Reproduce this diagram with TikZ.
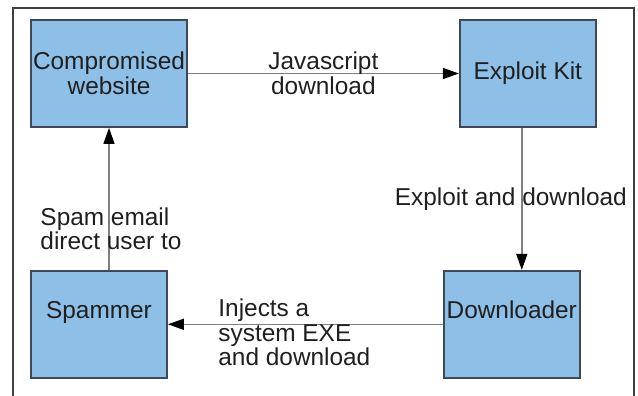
\documentclass[tikz,border=0pt]{standalone}
\usepackage{fontspec}
\setmainfont{Liberation Sans}
\usetikzlibrary{arrows.meta, positioning, calc}
\usepackage{xcolor}
\definecolor{boxblue}{RGB}{141,191,231}
\definecolor{boxline}{RGB}{62,72,88}
\definecolor{wire}{RGB}{128,128,128}
\newcommand{\chainfont}{\fontsize{12.2pt}{12.4pt}\selectfont}
\tikzstyle{actor} = [rectangle, minimum width=68pt, minimum height=53.5pt, inner sep=1pt,
    align=center, draw=boxline, line width=0.9pt, fill=boxblue, text=black!88, font=\chainfont]
\tikzstyle{toptext} = [text height=9pt, text depth=15pt]
\tikzstyle{arrow} = [draw=wire, line width=0.75pt, -{Triangle[length=8pt, width=5.5pt, color=black]}]
\tikzstyle{lbl} = [font=\chainfont, text=black!88, inner sep=1pt]

\begin{document}
\begin{tikzpicture}[x=0.5pt, y=-0.5pt]
\useasboundingbox (0,0) rectangle (638,396);
% outer frame, open at the bottom
\draw[black!75, line width=0.8pt] (13,396) -- (13,8) -- (634,8) -- (634,396);

\node (site) [actor, minimum width=78pt] at (109,73.5) {Compromised\\website};
\node (kit) [actor, right=135.5pt of site] {Exploit Kit};
\node (dropper) [actor, toptext, below=71pt of kit, xshift=-8pt] {Downloader};
\node (spammer) [actor, toptext, left=137.5pt of dropper] {Spammer};

\draw[arrow] (site.east) -- node[lbl, align=center]{Javascript\\download} (kit.west);
\draw[arrow] ([xshift=-3pt]kit.south) -- node[lbl, xshift=-5.5pt]{Exploit and download}
    ([xshift=-3pt]kit.south |- dropper.north);
\draw[arrow] (dropper.west) -- node[lbl, align=left, xshift=-5.5pt, yshift=-4pt]{Injects a\\system EXE\\and download} (spammer.east);
\draw[arrow] (spammer.north -| site.south) -- node[lbl, align=left, pos=0.29, xshift=1pt]{Spam email\\direct user to} (site.south);
\end{tikzpicture}
\end{document}
